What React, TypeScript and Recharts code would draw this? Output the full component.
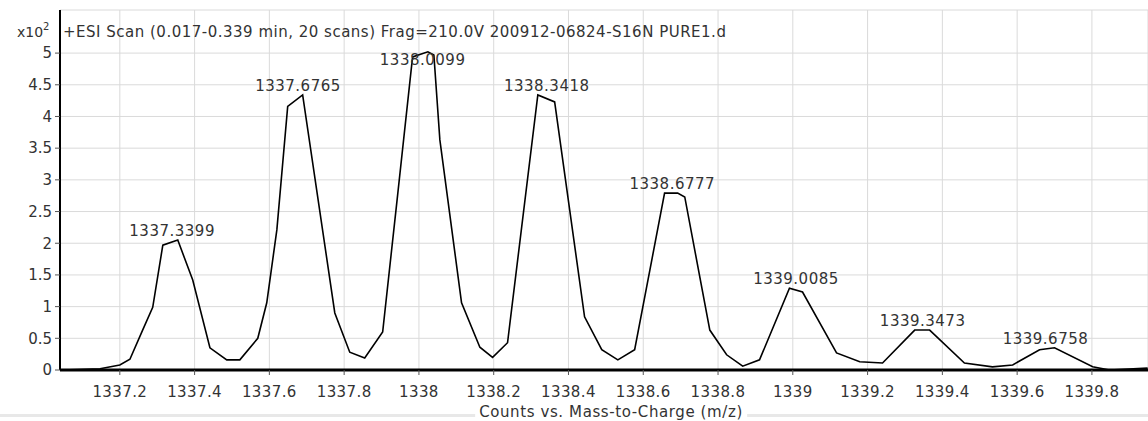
import { LineChart, Line, XAxis, YAxis, CartesianGrid, LabelList } from "recharts";

// profile spectrum (m/z vs counts, x10^2)
const mzValues = [
  1337.045, 1337.147, 1337.2, 1337.227, 1337.261, 1337.288, 1337.315, 1337.355, 1337.395, 1337.441,
  1337.486, 1337.521, 1337.569, 1337.593, 1337.62, 1337.649, 1337.689, 1337.775, 1337.815, 1337.855,
  1337.903, 1337.943, 1337.983, 1338.024, 1338.04, 1338.056, 1338.114, 1338.163, 1338.197, 1338.237,
  1338.318, 1338.363, 1338.443, 1338.489, 1338.532, 1338.577, 1338.657, 1338.692, 1338.711, 1338.778,
  1338.823, 1338.866, 1338.911, 1338.991, 1339.026, 1339.117, 1339.179, 1339.24, 1339.326, 1339.366,
  1339.459, 1339.534, 1339.588, 1339.66, 1339.7, 1339.802, 1339.847, 1339.949,
];
const countValues = [
  0.0, 0.02, 0.08, 0.17, 0.63, 0.99, 1.97, 2.05, 1.42, 0.35,
  0.16, 0.16, 0.5, 1.06, 2.21, 4.16, 4.34, 0.9, 0.28, 0.19,
  0.6, 2.76, 4.94, 5.02, 4.97, 3.63, 1.06, 0.36, 0.2, 0.43,
  4.34, 4.23, 0.84, 0.32, 0.16, 0.32, 2.79, 2.79, 2.73, 0.63,
  0.24, 0.06, 0.16, 1.29, 1.23, 0.27, 0.13, 0.11, 0.63, 0.63,
  0.11, 0.05, 0.08, 0.32, 0.35, 0.05, 0.0, 0.03,
];

// labelled centroids
const peakMz = [1337.3399, 1337.6765, 1338.0099, 1338.3418, 1338.6777, 1339.0085, 1339.3473, 1339.6758];
const peakCounts = [2.05, 4.34, 5.02, 4.34, 2.79, 1.29, 0.63, 0.35];

const xTicks = [
  1337.2, 1337.4, 1337.6, 1337.8, 1338, 1338.2, 1338.4, 1338.6, 1338.8, 1339, 1339.2, 1339.4, 1339.6, 1339.8,
];
const yTicks = [0, 0.5, 1, 1.5, 2, 2.5, 3, 3.5, 4, 4.5, 5];

const scanTitle = "+ESI Scan (0.017-0.339 min, 20 scans) Frag=210.0V 200912-06824-S16N PURE1.d";
const xTitle = "Counts vs. Mass-to-Charge (m/z)";

const profile = mzValues.map((mz, i) => ({ mz, counts: countValues[i] }));
const peaks = peakMz.map((mz, i) => ({ mz, counts: peakCounts[i] }));

const FONT = "'DejaVu Sans', Verdana, sans-serif";
const TEXT = "#333";

function PeakLabel(props: any) {
  const vb = props.viewBox || {};
  const x = typeof props.x === "number" ? props.x : vb.x + (vb.width || 0) / 2;
  const y = typeof props.y === "number" ? props.y : vb.y + (vb.height || 0) / 2;
  // keep labels below the scan title
  const ty = Math.max(y - 9, 60);
  return (
    <text
      x={x}
      y={ty}
      textAnchor="middle"
      dominantBaseline="central"
      fontFamily={FONT}
      fontSize={15}
      letterSpacing={0.5}
      fill={TEXT}
    >
      {Number(props.value).toFixed(4)}
    </text>
  );
}

function ScaleLabel() {
  return (
    <text x={17} y={37} fontFamily={FONT} fontSize={14} fill={TEXT}>
      x10
      <tspan dy={-7} fontSize={10}>
        2
      </tspan>
    </text>
  );
}

export default function App() {
  return (
    <div style={{ position: "absolute", left: 0, top: 0, width: 1148, height: 421, background: "#fff" }}>
      <div
        style={{
          position: "absolute",
          left: 0,
          top: 414,
          width: 1148,
          height: 3,
          background: "#e8e8e8",
        }}
      />
      <LineChart
        width={1148}
        height={421}
        data={profile}
        margin={{ top: 10, right: 0, bottom: 0, left: 0 }}
      >
        <CartesianGrid stroke="#dadada" strokeWidth={1} />
        <XAxis
          dataKey="mz"
          type="number"
          domain={[1337.04, 1339.95]}
          ticks={xTicks}
          tickFormatter={(v: number) => String(Number(v.toFixed(1)))}
          height={51}
          axisLine={{ stroke: "#000", strokeWidth: 3 }}
          tickLine={{ stroke: "#555" }}
          tickSize={5}
          tickMargin={11}
          tick={{ fontFamily: FONT, fontSize: 15, fill: TEXT, letterSpacing: 0.4 }}
          allowDataOverflow
        />
        <YAxis
          type="number"
          domain={[0, 5.68]}
          ticks={yTicks}
          width={60}
          axisLine={{ stroke: "#000", strokeWidth: 2 }}
          tickLine={{ stroke: "#555" }}
          tickSize={5}
          tickMargin={3}
          tick={{ fontFamily: FONT, fontSize: 15, fill: TEXT }}
          label={<ScaleLabel />}
          allowDataOverflow
        />
        <Line
          type="linear"
          dataKey="counts"
          stroke="#000"
          strokeWidth={1.6}
          dot={false}
          activeDot={false}
          isAnimationActive={false}
        />
        <Line
          data={peaks}
          type="linear"
          dataKey="counts"
          stroke="none"
          dot={false}
          activeDot={false}
          isAnimationActive={false}
        >
          <LabelList dataKey="mz" content={<PeakLabel />} />
        </Line>
      </LineChart>
      <div
        style={{
          position: "absolute",
          left: 63,
          top: 23,
          fontFamily: FONT,
          fontSize: 15,
          letterSpacing: 0.5,
          color: TEXT,
          whiteSpace: "nowrap",
          lineHeight: "18px",
        }}
      >
        {scanTitle}
      </div>
      <div
        style={{
          position: "absolute",
          left: 611,
          top: 403,
          transform: "translateX(-50%)",
          fontFamily: FONT,
          fontSize: 15,
          letterSpacing: 0.6,
          color: TEXT,
          whiteSpace: "nowrap",
          lineHeight: "18px",
          background: "#fff",
          padding: "0 4px",
        }}
      >
        {xTitle}
      </div>
    </div>
  );
}
